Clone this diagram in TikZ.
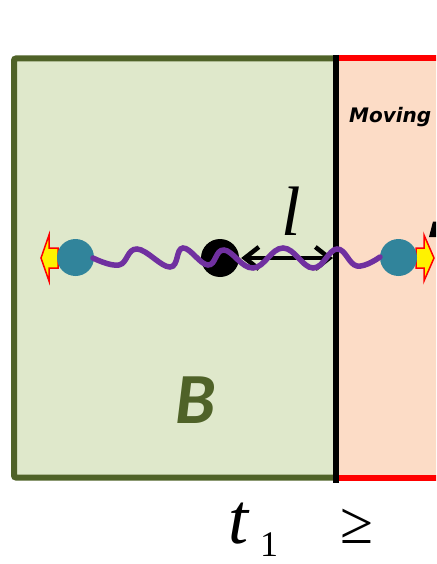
\documentclass[tikz,border=0pt]{standalone}
\usepackage{fontspec}
\setmainfont{Liberation Serif}
\newfontfamily\carl{Carlito}
\newfontfamily\dejav{DejaVu Sans}
\usetikzlibrary{arrows.meta}
\definecolor{olivedark}{HTML}{4F6228}
\definecolor{olivefill}{HTML}{DFE8CB}
\definecolor{peachfill}{HTML}{FCDCC6}
\definecolor{ballblue}{HTML}{31849B}
\definecolor{wavepurple}{HTML}{7030A0}
\tikzset{
  ball/.style={circle, fill=ballblue, minimum size=37pt, inner sep=0pt},
  dotnode/.style={circle, fill=black, minimum size=38pt, inner sep=0pt},
  pusharrow/.style={fill=yellow, draw=red, line width=1.5pt, line join=miter},
  wave/.style={wavepurple, line width=5.5pt, line cap=round},
  lenarrow/.style={line width=4.5pt, {Straight Barb[length=14pt,width=22pt]}-{Straight Barb[length=14pt,width=22pt]}},
  bigtext/.style={inner sep=0pt, anchor=base}
}
\begin{document}
\begin{tikzpicture}[x=1pt,y=-1pt]
\useasboundingbox (0,0) rectangle (436,564);
\clip (0,0) rectangle (436,564);
% boxes
\draw[olivedark, fill=olivefill, line width=6pt, rounded corners=2pt] (14,58.5) rectangle (336,477.5);
\fill[peachfill] (336,58) rectangle (440,477.5);
\draw[red, line width=6pt] (336,58) -- (440,58);
\draw[red, line width=6pt] (336,477.5) -- (440,477.5);
\draw[black, line width=6pt] (336,55) -- (336,483);
% particles
\node[dotnode] (dot) at (220,258) {};
\coordinate (wall) at (333,258);
\draw[lenarrow] (dot.east) ++(2,0) coordinate (arrL) (arrL) -- (wall);
% yellow push arrows
\draw[pusharrow] (58,248) -- (49,248) -- (49,235) -- (41,258) -- (49,281) -- (49,268) -- (58,268) -- cycle;
\draw[pusharrow] (416,248) -- (424,248) -- (424,235) -- (434,258) -- (424,281) -- (424,268) -- (416,268) -- cycle;
\node[ball] (lb) at (75.5,257.5) {};
\node[ball] (rb) at (398.5,257.5) {};
% wave
\draw[wave] plot[smooth, tension=0.7] coordinates {(93,258) (119,265) (137,249) (170,267) (183,248) (208,265) (224,250) (253,268) (283,248) (313,268) (337,249) (357,266) (380,257)};
% partial black mark at right
\fill[black] (429,237) -- (433,221.5) -- (437,221.5) -- (437,237) -- cycle;
% texts
\node[bigtext, font=\fontsize{70}{70}\selectfont\itshape] (ell) at (291,235) {l};
\node[bigtext, font=\carl\fontsize{72}{72}\selectfont\bfseries\itshape, text=olivedark] (B) at (196,423) {B};
\node[inner sep=0pt, anchor=base west, font=\dejav\fontsize{20}{20}\selectfont\bfseries\itshape] (mov) at (349,123) {Moving};
\node[bigtext, font=\fontsize{72}{72}\selectfont\itshape] (t) at (238,543) {t};
\node[bigtext, font=\fontsize{36}{36}\selectfont] (one) at (269,556) {1};
\node[bigtext, font=\fontsize{60}{60}\selectfont] (geq) at (357,543) {≥};
\end{tikzpicture}
\end{document}
